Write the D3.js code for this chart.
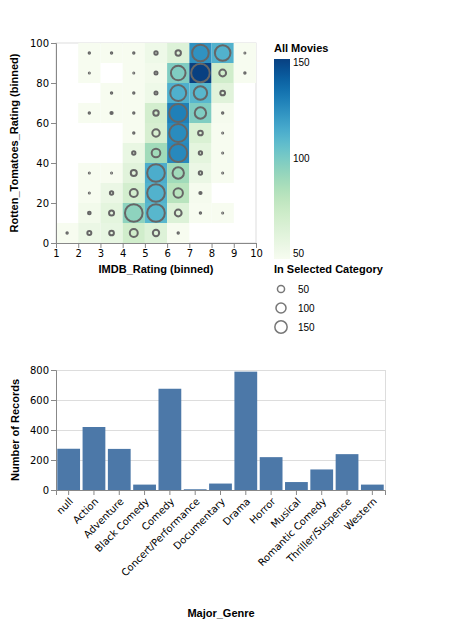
<!DOCTYPE html>
<html><head><meta charset="utf-8">
<script src="https://cdn.jsdelivr.net/npm/d3@7"></script>
<style>
body{margin:0;background:#fff;}
text{font-family:"Liberation Sans",Arial,Helvetica,sans-serif;}
</style>
</head><body>
<svg id="c" width="457" height="627"></svg>
<script>
// ---- data ----
const imdbBins = [1, 2, 3, 4, 5, 6, 7, 8, 9];          // bin starts, step 1
const rtBins = [0, 10, 20, 30, 40, 50, 60, 70, 80, 90]; // bin starts, step 10
// "All Movies" count per cell (rows = rtBins, cols = imdbBins)
const allMovies = [
  [40, 54, 56, 70, 62, 46, null, null, null],
  [null, 50, 58, 94, 110, 62, 45, 44, null],
  [null, 44, 54, 68, 112, 80, 48, null, null],
  [null, 42, 44, 60, 114, 88, 54, 46, null],
  [null, null, null, 55, 88, 127, 58, 45, null],
  [null, null, null, 46, 66, 126, 64, 44, null],
  [null, 42, 45, 46, 68, 130, 98, 48, null],
  [null, null, 40, 42, 52, 113, 110, 60, null],
  [null, 38, null, 38, 50, 98, 152, 70, 36],
  [null, 40, 40, 42, 52, 62, 124, 112, 35]
];
// "In Selected Category" count per cell
const selectedCat = [
  [2, 16, 22, 63, 40, 2, null, null, null],
  [null, 7, 25, 308, 308, 46, 2, 1, null],
  [null, 1, 11, 63, 308, 87, 5, null, null],
  [null, 1, 1, 36, 308, 128, 11, 1, null],
  [null, null, null, 11, 74, 320, 11, 1, null],
  [null, null, null, 2, 54, 320, 22, 1, null],
  [null, 2, 5, 2, 29, 320, 128, 2, null],
  [null, null, 2, 2, 9, 252, 177, 22, null],
  [null, 1, null, 1, 9, 211, 342, 46, 2],
  [null, 2, 2, 2, 11, 29, 274, 240, 1]
];
const genres = ["null", "Action", "Adventure", "Black Comedy", "Comedy", "Concert/Performance",
  "Documentary", "Drama", "Horror", "Musical", "Romantic Comedy", "Thriller/Suspense", "Western"];
const genreCounts = [275, 420, 274, 36, 675, 5, 43, 789, 219, 53, 137, 239, 36];
const xTicksHM = [1, 2, 3, 4, 5, 6, 7, 8, 9, 10];
const yTicksHM = [0, 20, 40, 60, 80, 100];
const colorLegendTicks = [50, 100, 150];
const sizeLegendTicks = [50, 100, 150];
const barYTicks = [0, 200, 400, 600, 800];

// ---- drawing ----
const svg = d3.select("#c");
const AX = "#888", GRID = "#ddd";
const LABEL_FONT = '"DejaVu Sans",Verdana,sans-serif';

function styleAxis(g) {
  g.selectAll(".domain").attr("stroke", AX);
  g.selectAll(".tick line").attr("stroke", AX);
  g.selectAll(".tick text").attr("fill", "#000").style("font-size", "10px")
    .style("font-family", LABEL_FONT);
}

// Heatmap
const W = 200, H = 200;
const hm = svg.append("g").attr("transform", "translate(56,43)");
const x = d3.scaleLinear().domain([1, 10]).range([0, W]);
const y = d3.scaleLinear().domain([0, 100]).range([H, 0]);
const color = d3.scaleSequential(d3.interpolateGnBu).domain([47, 152]).clamp(true);
const size = d3.scaleLinear().domain([0, 320]).range([0, 254]); // area

hm.append("rect").attr("width", W).attr("height", H).attr("fill", "none").attr("stroke", GRID);

const cells = [];
rtBins.forEach((rt, i) => imdbBins.forEach((im, j) => {
  if (allMovies[i][j] != null) cells.push({im, rt, all: allMovies[i][j], sel: selectedCat[i][j]});
}));

hm.selectAll("rect.cell").data(cells).join("rect").attr("class", "cell")
  .attr("x", d => x(d.im)).attr("y", d => y(d.rt + 10))
  .attr("width", d => x(d.im + 1) - x(d.im)).attr("height", d => y(d.rt) - y(d.rt + 10))
  .attr("fill", d => color(d.all));

hm.selectAll("circle.pt").data(cells.filter(d => d.sel != null)).join("circle").attr("class", "pt")
  .attr("cx", d => x(d.im + 0.5)).attr("cy", d => y(d.rt + 5))
  .attr("r", d => Math.sqrt(size(d.sel) / Math.PI))
  .attr("fill", "none").attr("stroke", "#666").attr("stroke-width", 2);

hm.append("g").call(d3.axisLeft(y).tickValues(yTicksHM).tickSize(5).tickPadding(2)).call(styleAxis);
hm.append("g").attr("transform", `translate(0,${H})`)
  .call(d3.axisBottom(x).tickValues(xTicksHM).tickSize(5).tickPadding(2)).call(styleAxis);

svg.append("text").attr("transform", "translate(18,143) rotate(-90)").attr("text-anchor", "middle")
  .style("font-size", "11px").style("font-weight", "bold").text("Rotten_Tomatoes_Rating (binned)");
svg.append("text").attr("x", 156).attr("y", 273).attr("text-anchor", "middle")
  .style("font-size", "11px").style("font-weight", "bold").text("IMDB_Rating (binned)");

// Color legend
const lg = svg.append("g").attr("transform", "translate(274,0)");
lg.append("text").attr("x", 0).attr("y", 52).style("font-size", "11px").style("font-weight", "bold").text("All Movies");
const defs = svg.append("defs");
const grad = defs.append("linearGradient").attr("id", "gr").attr("x1", 0).attr("y1", 1).attr("x2", 0).attr("y2", 0);
d3.range(0, 1.0001, 0.05).forEach(t => grad.append("stop").attr("offset", t).attr("stop-color", d3.interpolateGnBu(t)));
const gy = d3.scaleLinear().domain(color.domain()).range([259, 59]);
lg.append("rect").attr("x", 0).attr("y", 59).attr("width", 16).attr("height", 200).attr("fill", "url(#gr)");
lg.selectAll("text.cl").data(colorLegendTicks).join("text").attr("class", "cl")
  .attr("x", 19).attr("y", d => gy(d)).attr("dy", "0.35em").style("font-size", "10px").text(d => d);

// Size legend
lg.append("text").attr("x", 0).attr("y", 273).style("font-size", "11px").style("font-weight", "bold").text("In Selected Category");
const sy = [289, 308, 327];
lg.selectAll("circle.sl").data(sizeLegendTicks).join("circle").attr("class", "sl")
  .attr("cx", 7).attr("cy", (d, i) => sy[i]).attr("r", d => Math.sqrt(size(d) / Math.PI))
  .attr("fill", "none").attr("stroke", "#777").attr("stroke-width", 1.5);
lg.selectAll("text.sl").data(sizeLegendTicks).join("text").attr("class", "sl")
  .attr("x", 24).attr("y", (d, i) => sy[i]).attr("dy", "0.35em").style("font-size", "10px").text(d => d);

// Bar chart
const BW = 329, BH = 120;
const bc = svg.append("g").attr("transform", "translate(56,370)");
const xb = d3.scaleBand().domain(genres).range([0, BW]).paddingInner(0.1).paddingOuter(0.05);
const yb = d3.scaleLinear().domain([0, 800]).range([BH, 0]);
bc.selectAll("line.grid").data(barYTicks).join("line").attr("class", "grid")
  .attr("x1", 0).attr("x2", BW).attr("y1", d => Math.round(yb(d)) + 0.5).attr("y2", d => Math.round(yb(d)) + 0.5)
  .attr("stroke", GRID);
bc.append("rect").attr("x", 0.5).attr("y", 0.5).attr("width", BW).attr("height", BH).attr("fill", "none").attr("stroke", GRID);
bc.selectAll("rect.bar").data(genres).join("rect").attr("class", "bar")
  .attr("x", d => xb(d)).attr("width", xb.bandwidth())
  .attr("y", (d, i) => yb(genreCounts[i])).attr("height", (d, i) => BH - yb(genreCounts[i]))
  .attr("fill", "#4c78a8");
bc.append("g").call(d3.axisLeft(yb).tickValues(barYTicks).tickSize(5).tickPadding(2)).call(styleAxis);
const xa = bc.append("g").attr("transform", `translate(0,${BH})`)
  .call(d3.axisBottom(xb).tickSize(5).tickPadding(2)).call(styleAxis);
xa.selectAll(".tick text").attr("text-anchor", "end").attr("x", 0).attr("y", 0).attr("dy", "0.72em")
  .attr("transform", "translate(0,7) rotate(-45)");

svg.append("text").attr("transform", "translate(19,430) rotate(-90)").attr("text-anchor", "middle")
  .style("font-size", "11px").style("font-weight", "bold").text("Number of Records");
svg.append("text").attr("x", 221).attr("y", 617).attr("text-anchor", "middle")
  .style("font-size", "11px").style("font-weight", "bold").text("Major_Genre");
</script>
</body></html>
